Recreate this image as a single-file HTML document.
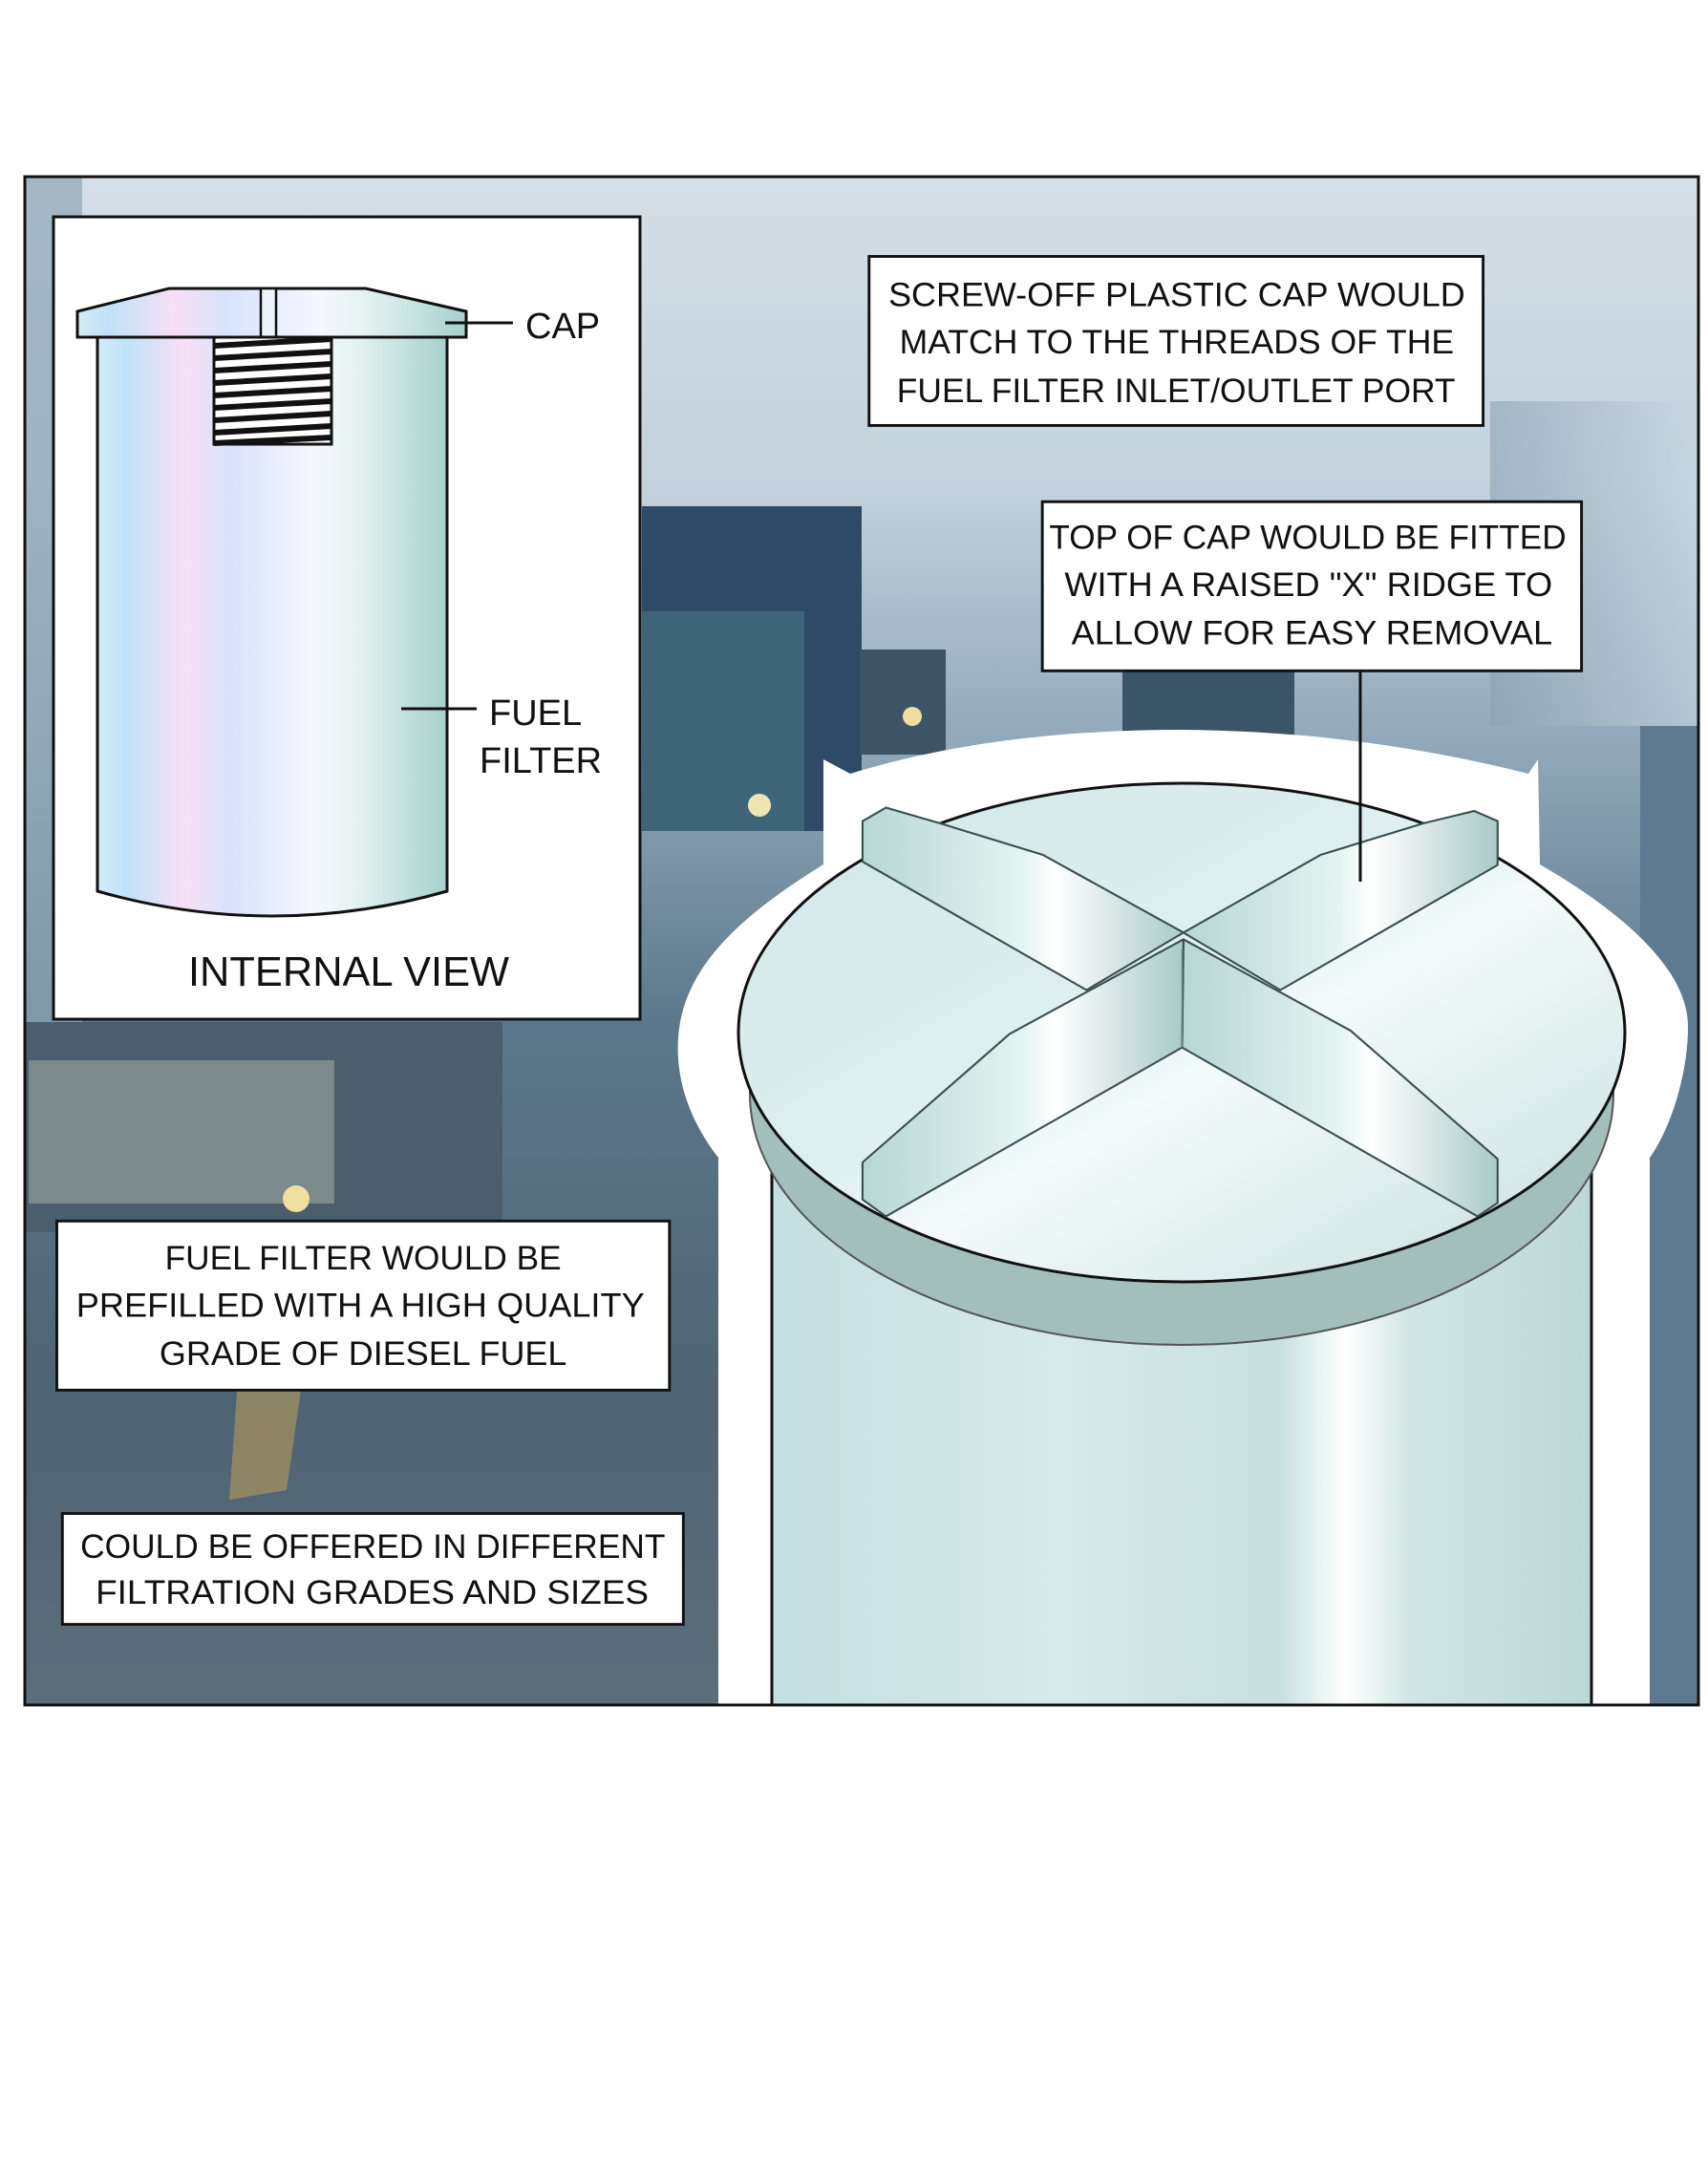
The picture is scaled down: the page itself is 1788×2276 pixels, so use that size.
<!DOCTYPE html>
<html><head><meta charset="utf-8"><style>
html,body{margin:0;padding:0;background:#fff;}
svg{display:block;}
text{font-family:"Liberation Sans",sans-serif;fill:#111;}
</style></head><body>
<svg width="1788" height="2276" viewBox="0 0 1788 2276" xmlns="http://www.w3.org/2000/svg">
<defs>
<linearGradient id="bg" x1="0" y1="0" x2="0" y2="1">
<stop offset="0" stop-color="#d4dee6"/>
<stop offset="0.2" stop-color="#c4d2dc"/>
<stop offset="0.38" stop-color="#8ea6b8"/>
<stop offset="0.55" stop-color="#5d788c"/>
<stop offset="0.8" stop-color="#4e6474"/>
<stop offset="1" stop-color="#5c6e7a"/>
</linearGradient>
<linearGradient id="snowR" x1="0" y1="0" x2="1" y2="0">
<stop offset="0" stop-color="#8aa2b4"/>
<stop offset="1" stop-color="#c8d6e0"/>
</linearGradient>
<linearGradient id="body1" x1="0" y1="0" x2="1" y2="0">
<stop offset="0" stop-color="#d4ecf6"/>
<stop offset="0.08" stop-color="#bfe2f8"/>
<stop offset="0.25" stop-color="#f8e0f4"/>
<stop offset="0.38" stop-color="#d8e2fc"/>
<stop offset="0.62" stop-color="#f6f8fe"/>
<stop offset="0.75" stop-color="#e2f2f0"/>
<stop offset="1" stop-color="#a6d0cc"/>
</linearGradient>
<linearGradient id="cyl" x1="0" y1="0" x2="1" y2="0">
<stop offset="0" stop-color="#c4dfe0"/>
<stop offset="0.35" stop-color="#d6eaea"/>
<stop offset="0.62" stop-color="#c8e0e0"/>
<stop offset="0.7" stop-color="#ffffff"/>
<stop offset="0.78" stop-color="#cfe6e4"/>
<stop offset="1" stop-color="#bcd8d6"/>
</linearGradient>
<linearGradient id="disk" x1="0" y1="0" x2="1" y2="1">
<stop offset="0" stop-color="#cfe6e6"/>
<stop offset="0.45" stop-color="#dff0f0"/>
<stop offset="0.55" stop-color="#f4fbfb"/>
<stop offset="1" stop-color="#c6dede"/>
</linearGradient>
<linearGradient id="face" x1="0" y1="0" x2="1" y2="0">
<stop offset="0" stop-color="#b6d6d4"/>
<stop offset="0.5" stop-color="#e4f4f2"/>
<stop offset="0.6" stop-color="#ffffff"/>
<stop offset="1" stop-color="#a8cac8"/>
</linearGradient>
</defs>

<rect x="26" y="185" width="1752" height="1600" fill="url(#bg)"/>
<rect x="26" y="185" width="60" height="1100" fill="#8ea6b6" opacity="0.7"/>
<rect x="672" y="530" width="230" height="340" fill="#2e4a66"/>
<rect x="672" y="640" width="170" height="230" fill="#3e6478"/>
<rect x="900" y="680" width="90" height="110" fill="#3c5466"/>
<rect x="1175" y="700" width="180" height="70" fill="#3a5468"/>
<circle cx="795" cy="843" r="12" fill="#f0e4b0"/>
<circle cx="955" cy="750" r="10" fill="#f0dca0"/>
<rect x="26" y="1070" width="500" height="220" fill="#4a5e6e"/>
<rect x="30" y="1110" width="320" height="150" fill="#7c8a8c"/>
<circle cx="310" cy="1255" r="14" fill="#f0e0a0"/>
<rect x="1717" y="760" width="61" height="1025" fill="#5e7a90"/>
<rect x="1560" y="420" width="218" height="340" fill="url(#snowR)" opacity="0.6"/>
<path d="M250 1430 L320 1420 L300 1560 L240 1570 Z" fill="#b89a5a" opacity="0.6"/>

<path d="M752 1785 L752 1212 C712 1160 705 1110 712 1070 C725 1000 790 950 862 905 L862 795 L890 810 C1000 776 1120 764 1240 764 C1370 766 1480 780 1600 810 L1610 795 L1612 905 C1690 950 1765 1010 1767 1072 C1768 1120 1750 1180 1727 1212 L1727 1785 Z" fill="#fff"/>

<rect x="26" y="185" width="1752" height="1600" fill="none" stroke="#111" stroke-width="3"/>

<rect x="808" y="1150" width="858" height="635" fill="url(#cyl)" stroke="#111" stroke-width="3"/>
<rect x="700" y="1787" width="1088" height="10" fill="#fff"/>
<ellipse cx="1237" cy="1145" rx="452" ry="263" fill="#a2bfbc" stroke="#555" stroke-width="2"/>
<ellipse cx="1237" cy="1081" rx="464" ry="261" fill="url(#disk)" stroke="#111" stroke-width="3"/>

<g transform="translate(700,750) scale(0.6998,0.7074)" stroke="#3a5050" stroke-width="3" stroke-linejoin="round">
<polygon points="290,155 325,135 405,158 560,205 770,320 625,405 290,215" fill="url(#face)"/>
<polygon points="1240,155 1205,140 1130,158 975,205 770,320 915,405 1240,220" fill="url(#face)"/>
<polygon points="770,330 1020,465 1240,655 1240,720 1210,740 768,490" fill="url(#face)"/>
<polygon points="770,330 510,470 290,660 290,715 325,740 768,490" fill="url(#face)"/>
<line x1="768" y1="345" x2="768" y2="490" stroke="#6a8888" stroke-width="2"/>
</g>
<line x1="1424" y1="702" x2="1424" y2="923" stroke="#111" stroke-width="3"/>

<rect x="56" y="227" width="614" height="840" fill="#fff" stroke="#111" stroke-width="3"/>
<path d="M102 353 L102 933 Q285 985 468 933 L468 353 Z" fill="url(#body1)" stroke="#111" stroke-width="3"/>
<polygon points="81,326 177,302 383,302 488,326 488,353 81,353" fill="url(#body1)" stroke="#111" stroke-width="3"/>
<rect x="273" y="302" width="16" height="51" fill="#eef4fc" stroke="#111" stroke-width="2.5"/>
<rect x="224" y="353" width="123" height="112" fill="#fff" stroke="#111" stroke-width="3"/>
<g stroke="#111" stroke-width="6">
<line x1="224" y1="362" x2="347" y2="355"/><line x1="224" y1="375" x2="347" y2="368"/>
<line x1="224" y1="388" x2="347" y2="381"/><line x1="224" y1="401" x2="347" y2="394"/>
<line x1="224" y1="414" x2="347" y2="407"/><line x1="224" y1="427" x2="347" y2="420"/>
<line x1="224" y1="440" x2="347" y2="433"/><line x1="224" y1="453" x2="347" y2="446"/>
<line x1="224" y1="464" x2="347" y2="458"/>
</g>
<line x1="466" y1="338" x2="537" y2="338" stroke="#111" stroke-width="3"/>
<text x="550" y="354" font-size="38">CAP</text>
<line x1="420" y1="742" x2="499" y2="742" stroke="#111" stroke-width="3"/>
<text x="512" y="759" font-size="38">FUEL</text>
<text x="502" y="809" font-size="38">FILTER</text>
<text x="365" y="1032" font-size="44" text-anchor="middle" textLength="336" lengthAdjust="spacingAndGlyphs">INTERNAL VIEW</text>

<g transform="scale(1.451)">
<rect x="627" y="185" width="443" height="122" fill="#fff" stroke="#111" stroke-width="2"/>
<text x="641" y="221" font-size="24" textLength="416" lengthAdjust="spacingAndGlyphs">SCREW-OFF PLASTIC CAP WOULD</text>
<text x="649" y="255" font-size="24" textLength="400" lengthAdjust="spacingAndGlyphs">MATCH TO THE THREADS OF THE</text>
<text x="647" y="290" font-size="24" textLength="403" lengthAdjust="spacingAndGlyphs">FUEL FILTER INLET/OUTLET PORT</text>

<rect x="752" y="362" width="389" height="122" fill="#fff" stroke="#111" stroke-width="2"/>
<text x="757" y="396" font-size="24" textLength="373" lengthAdjust="spacingAndGlyphs">TOP OF CAP WOULD BE FITTED</text>
<text x="768" y="430" font-size="24" textLength="352" lengthAdjust="spacingAndGlyphs">WITH A RAISED "X" RIDGE TO</text>
<text x="773" y="465" font-size="24" textLength="347" lengthAdjust="spacingAndGlyphs">ALLOW FOR EASY REMOVAL</text>

<rect x="41" y="881" width="442" height="122" fill="#fff" stroke="#111" stroke-width="2"/>
<text x="119" y="916" font-size="24" textLength="286" lengthAdjust="spacingAndGlyphs">FUEL FILTER WOULD BE</text>
<text x="55" y="950" font-size="24" textLength="410" lengthAdjust="spacingAndGlyphs">PREFILLED WITH A HIGH QUALITY</text>
<text x="115" y="985" font-size="24" textLength="294" lengthAdjust="spacingAndGlyphs">GRADE OF DIESEL FUEL</text>

<rect x="45" y="1092" width="448" height="80" fill="#fff" stroke="#111" stroke-width="2"/>
<text x="58" y="1124" font-size="24" textLength="422" lengthAdjust="spacingAndGlyphs">COULD BE OFFERED IN DIFFERENT</text>
<text x="69" y="1157" font-size="24" textLength="399" lengthAdjust="spacingAndGlyphs">FILTRATION GRADES AND SIZES</text>
</g>
</svg>
</body></html>
